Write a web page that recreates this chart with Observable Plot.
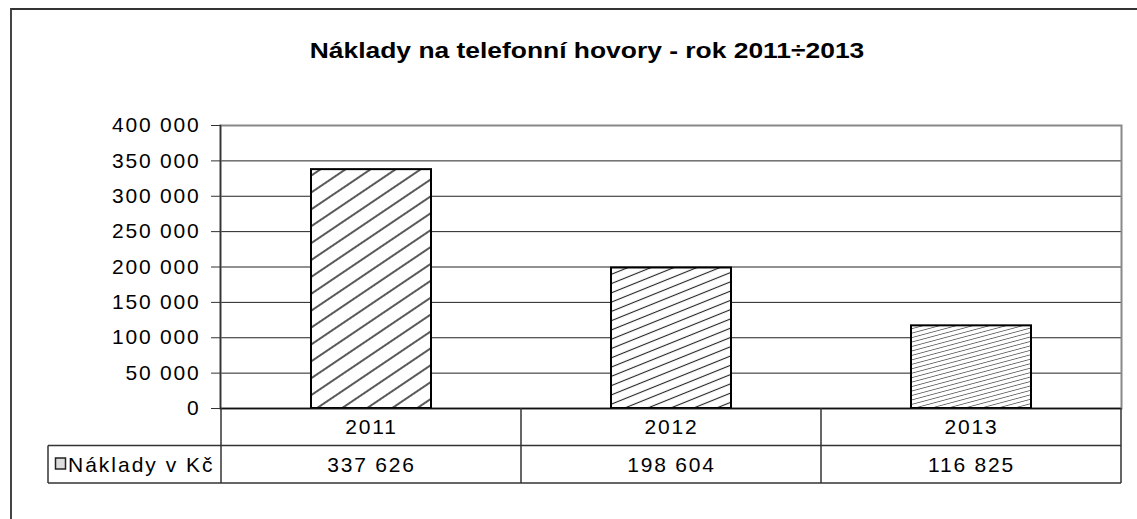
<!DOCTYPE html>
<html>
<head>
<meta charset="utf-8">
<script src="https://cdn.jsdelivr.net/npm/d3@7"></script>
<script src="https://cdn.jsdelivr.net/npm/@observablehq/plot@0.6"></script>
<style>
  body { margin: 0; background: #fff; }
  #wrap { position: relative; width: 1137px; height: 519px; overflow: hidden; background: #fff;
          font-family: "Liberation Sans", Arial, sans-serif; }
  #outer { position: absolute; left: 10px; top: 8px; width: 1300px; height: 700px;
           border-left: 2px solid #444; border-top: 2px solid #333; z-index: 5; pointer-events: none; }
  #title { height: 90px; box-sizing: border-box; padding-top: 40px; width: 1174px; text-align: center;
           font-weight: bold; font-size: 22px; line-height: 22px; color: #000; }
  #title span { display: inline-block; transform: scaleX(1.2); transform-origin: center; }
  #chart svg { display: block; }
</style>
</head>
<body>
<div id="wrap">
  <div id="outer"></div>
  <div id="title"><span></span></div>
  <div id="chart"></div>
</div>
<script>
// ---- data ----
const title = "Náklady na telefonní hovory - rok 2011÷2013";
const seriesName = "Náklady v Kč";
const years = ["2011", "2012", "2013"];
const costs = [337626, 198604, 116825];
const yTicks = [0, 50000, 100000, 150000, 200000, 250000, 300000, 350000, 400000];

// ---- styles ----
const hatchStyles = [
  { spacing: 14, angle: -34, color: "#000", w: 1.3 },
  { spacing: 8.6, angle: -22, color: "#222", w: 1.1 },
  { spacing: 4.3, angle: -15, color: "#666", w: 0.9 }
];

const data = years.map((year, i) => ({ year, cost: costs[i] }));
const loc = d3.formatLocale({ decimal: ",", thousands: "\u00a0", grouping: [3], currency: ["", " Kč"] });
const fmt = loc.format(",d");

document.querySelector("#title span").textContent = title;

function defsMark() {
  const g = d3.create("svg:g");
  const defs = g.append("defs");
  years.forEach((v, i) => {
    const h = hatchStyles[i];
    const p = defs.append("pattern")
      .attr("id", `hatch-${v}`)
      .attr("patternUnits", "userSpaceOnUse")
      .attr("width", h.spacing).attr("height", h.spacing)
      .attr("patternTransform", `rotate(${h.angle})`);
    p.append("rect").attr("width", h.spacing).attr("height", h.spacing).attr("fill", "#fff");
    p.append("line").attr("x1", -1).attr("x2", h.spacing + 1)
      .attr("y1", h.spacing / 2).attr("y2", h.spacing / 2)
      .attr("stroke", h.color).attr("stroke-width", h.w);
  });
  return g.node();
}

function tableMark(index, scales, values, dims) {
  const x = scales.x;
  const step = typeof x.step === "function" ? x.step() : scales.scales.x.step;
  const bw = typeof x.bandwidth === "function" ? x.bandwidth() : scales.scales.x.bandwidth;
  const pad = (step - bw) / 2;
  const right = dims.width - dims.marginRight;
  const top = dims.height - dims.marginBottom;
  const rowH = 37.5;
  const labelLeft = 48;
  const g = d3.create("svg:g").attr("fill", "none").attr("stroke", "#333").attr("stroke-width", 1.5);
  const hl = (x1, x2, y) => g.append("line").attr("x1", x1).attr("x2", x2).attr("y1", y).attr("y2", y);
  const vl = (xx, y1, y2) => g.append("line").attr("x1", xx).attr("x2", xx).attr("y1", y1).attr("y2", y2);
  hl(labelLeft, right, top + rowH);
  hl(labelLeft, right, top + 2 * rowH);
  vl(labelLeft, top + rowH, top + 2 * rowH);
  years.forEach(v => vl(x(v) - pad, top, top + 2 * rowH));
  vl(right, top, top + 2 * rowH);
  g.append("rect").attr("x", 55.5).attr("y", top + rowH + 12.5).attr("width", 10).attr("height", 11)
    .attr("fill", "#ddd").attr("stroke", "#222").attr("stroke-width", 1.5);
  g.append("text").attr("x", 68).attr("y", top + rowH + rowH / 2).attr("dy", "0.35em")
    .attr("text-anchor", "start").attr("letter-spacing", "2px")
    .attr("fill", "#000").attr("stroke", "none").text(seriesName);
  return g.node();
}

const chart = Plot.plot({
  width: 1137,
  height: 519 - 90,
  marginTop: 35,
  marginBottom: 111,
  marginLeft: 220,
  marginRight: 16,
  style: { fontFamily: '"Liberation Sans", Arial, sans-serif', fontSize: "21px", letterSpacing: "1.8px",
           color: "#000", background: "transparent", overflow: "visible" },
  x: { domain: years, paddingInner: 0.6, paddingOuter: 0.3, axis: null },
  y: { domain: [0, 400000], axis: null },
  color: { type: "identity" },
  marks: [
    defsMark,
    Plot.ruleY(yTicks.slice(1, -1), { stroke: "#222", strokeWidth: 1 }),
    Plot.frame({ stroke: "#888", strokeWidth: 2 }),
    Plot.frame({ anchor: "left", stroke: "#333", strokeWidth: 1.5 }),
    Plot.axisY({ ticks: yTicks, tickFormat: fmt, tickSize: 9, tickPadding: 11, stroke: "#333", fill: "#000",
                 label: null, fontVariant: "normal" }),
    Plot.barY(data, { x: "year", y: "cost", fill: d => `url(#hatch-${d.year})`, stroke: "#000", strokeWidth: 2 }),
    Plot.ruleY([0], { stroke: "#111", strokeWidth: 1.5 }),
    tableMark,
    Plot.text(data, { x: "year", text: "year", frameAnchor: "bottom", lineAnchor: "middle", dy: 19, fill: "#000" }),
    Plot.text(data, { x: "year", text: d => fmt(d.cost), frameAnchor: "bottom", lineAnchor: "middle", dy: 56.5, fill: "#000" })
  ]
});
document.getElementById("chart").appendChild(chart);
</script>
</body>
</html>
